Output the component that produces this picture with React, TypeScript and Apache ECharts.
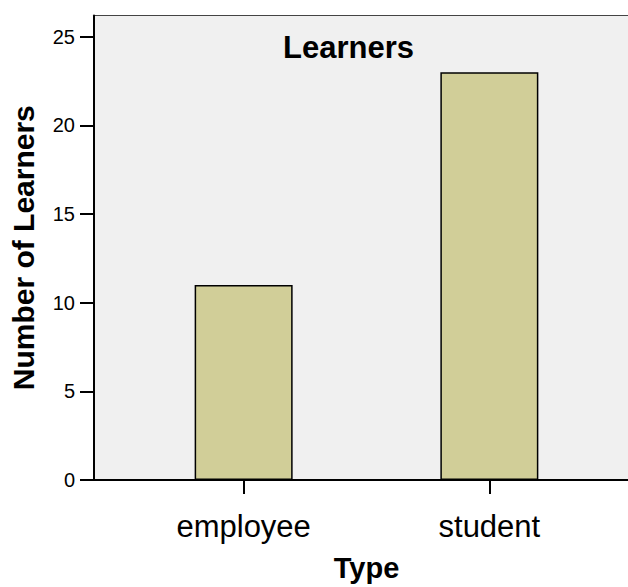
import React, { useEffect, useRef } from "react";
import * as echarts from "echarts";

const categories: string[] = ["employee", "student"];
const learners: number[] = [11, 23];
const yTicks: number[] = [0, 5, 10, 15, 20, 25];
const yMax = 26.2;
const chartTitle = "Learners";
const xTitle = "Type";
const yTitle = "Number of Learners";

const FONT = "'Liberation Sans', Arial, Helvetica, sans-serif";

export default function App() {
  const ref = useRef<HTMLDivElement>(null);
  useEffect(() => {
    if (!ref.current) return;
    const chart = echarts.init(ref.current, undefined, { renderer: "svg" });
    const catIdx = categories.map((_, i) => i);
    chart.setOption({
      animation: false,
      backgroundColor: "#ffffff",
      title: {
        text: chartTitle,
        left: 283,
        top: 32,
        padding: 0,
        textStyle: { fontFamily: FONT, fontSize: 31, fontWeight: "bold", color: "#000" },
      },
      grid: {
        left: 94,
        top: 15.5,
        right: 0,
        bottom: 102.5,
        show: true,
        backgroundColor: "#f0f0f0",
        borderColor: "#444",
        borderWidth: 1,
      },
      xAxis: {
        type: "value",
        min: -0.609,
        max: 1.609,
        name: xTitle,
        nameLocation: "middle",
        nameGap: 73,
        nameTextStyle: { fontFamily: FONT, fontSize: 29, fontWeight: "bold", color: "#000" },
        axisLine: { show: true, onZero: false, lineStyle: { color: "#000", width: 2 } },
        axisTick: {
          show: true,
          inside: false,
          length: 14,
          customValues: catIdx,
          lineStyle: { color: "#000", width: 2 },
        },
        axisLabel: {
          show: true,
          margin: 31,
          customValues: catIdx,
          fontFamily: FONT,
          fontSize: 31,
          color: "#000",
          formatter: (v: number) => categories[Math.round(v)] ?? "",
        },
        splitLine: { show: false },
      },
      yAxis: {
        type: "value",
        min: 0,
        max: yMax,
        name: yTitle,
        nameLocation: "middle",
        nameGap: 56,
        nameTextStyle: { fontFamily: FONT, fontSize: 30, fontWeight: "bold", color: "#000" },
        axisLine: { show: true, onZero: false, lineStyle: { color: "#000", width: 2 } },
        axisTick: {
          show: true,
          inside: false,
          length: 14,
          customValues: yTicks,
          lineStyle: { color: "#000", width: 2 },
        },
        axisLabel: {
          show: true,
          margin: 19,
          customValues: yTicks,
          fontFamily: FONT,
          fontSize: 20,
          color: "#000",
        },
        splitLine: { show: false },
      },
      series: [
        {
          type: "bar",
          barWidth: 98,
          data: categories.map((_, i) => [i, learners[i]]),
          itemStyle: { color: "#d1ce98", borderColor: "#000", borderWidth: 1.5 },
        },
      ],
    });
    return () => chart.dispose();
  }, []);
  return (
    <div
      style={{
        position: "fixed",
        left: 0,
        top: 0,
        width: 628,
        height: 587,
        overflow: "hidden",
      }}
    >
      <div ref={ref} style={{ width: 638.5, height: 587 }} />
    </div>
  );
}
